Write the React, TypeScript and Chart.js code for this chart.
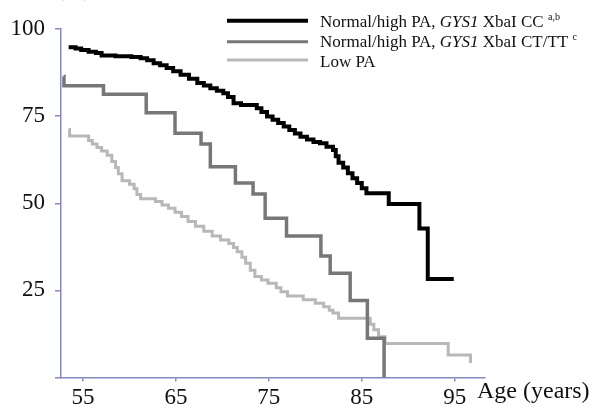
import React, { useEffect, useRef } from "react";
import { Chart, registerables } from "chart.js";

Chart.register(...registerables);

// Normal/high PA, GYS1 XbaI CC (black)
const ccAges = [53.45, 54.2, 54.8, 55.6, 56.4, 57.0, 58.5, 60.2, 61.2, 61.9, 62.6, 63.3, 64.0, 64.7, 65.5, 66.4, 67.3, 68.0, 68.7, 69.4, 70.1, 70.6, 71.2, 72.0, 73.7, 74.2, 74.8, 75.4, 76.0, 76.6, 77.2, 77.8, 78.4, 79.1, 79.8, 80.5, 81.2, 81.9, 82.2, 82.5, 83.0, 83.5, 84.0, 84.5, 85.0, 85.5, 87.9, 91.2, 92.1, 94.9];
const ccSurv = [94.8, 94.4, 94.0, 93.5, 93.1, 92.4, 92.2, 92.0, 91.6, 91.0, 90.2, 89.6, 88.8, 87.9, 86.9, 85.7, 84.5, 83.8, 83.0, 82.3, 81.6, 80.5, 78.7, 78.2, 77.3, 76.2, 74.9, 74.0, 73.0, 72.0, 71.0, 70.0, 69.1, 68.3, 67.6, 67.2, 66.2, 65.3, 63.5, 61.6, 60.3, 58.6, 57.2, 55.8, 54.3, 52.9, 49.8, 42.8, 28.3, 28.3];

// Normal/high PA, GYS1 XbaI CT/TT (grey)
const ctAges = [52.9, 52.95, 57.2, 61.8, 64.9, 67.7, 68.7, 71.4, 73.3, 74.6, 76.9, 80.6, 81.6, 83.75, 85.6, 87.4];
const ctSurv = [86.4, 83.7, 81.3, 76.0, 70.1, 67.0, 60.5, 55.8, 52.7, 45.7, 40.6, 34.9, 29.9, 22.1, 11.3, 0];

// Low PA (light grey)
const lowAges = [53.45, 53.55, 55.6, 56.0, 56.5, 57.0, 57.6, 58.1, 58.5, 58.8, 59.2, 60.0, 60.5, 60.8, 61.2, 62.8, 63.5, 64.2, 64.9, 65.6, 66.3, 67.1, 68.0, 68.9, 69.8, 70.7, 71.2, 71.6, 72.1, 72.5, 73.0, 73.5, 74.2, 74.9, 75.8, 76.3, 77.0, 78.7, 80.0, 80.9, 81.5, 81.9, 82.5, 85.9, 86.3, 86.8, 87.5, 94.3, 96.7];
const lowSurv = [71.2, 69.3, 68.0, 67.0, 66.0, 65.0, 63.8, 62.0, 60.3, 58.5, 56.5, 55.5, 54.2, 52.5, 51.3, 50.5, 49.5, 48.6, 47.4, 46.2, 44.8, 43.4, 42.0, 40.6, 39.5, 38.5, 37.3, 36.1, 34.5, 32.8, 30.8, 29.0, 28.0, 27.1, 25.8, 24.6, 23.4, 22.3, 21.3, 20.3, 19.3, 18.5, 17.0, 15.3, 13.7, 11.7, 9.8, 6.5, 4.2];

const xTicks = [55, 65, 75, 85, 95];
const yTicks = [0, 25, 50, 75, 100];
const xLabel = "Age (years)";
const yTitle = "Survival (%)";

type Part = { t: string; italic?: boolean; sup?: boolean };
const legendItems: { color: string; width: number; parts: Part[] }[] = [
  { color: "#000000", width: 4, parts: [{ t: "Normal/high PA, " }, { t: "GYS1", italic: true }, { t: " XbaI CC " }, { t: "a,b", sup: true }] },
  { color: "#777777", width: 3, parts: [{ t: "Normal/high PA, " }, { t: "GYS1", italic: true }, { t: " XbaI CT/TT " }, { t: "c", sup: true }] },
  { color: "#b8b8b8", width: 3, parts: [{ t: "Low PA" }] },
];

const SERIF = '"Liberation Serif", "Times New Roman", serif';
const AXIS = "#8787c2";

const pts = (a: number[], s: number[]) => a.map((x, i) => ({ x, y: s[i] }));

export default function App() {
  const ref = useRef<HTMLCanvasElement | null>(null);
  useEffect(() => {
    if (!ref.current) return;
    const extras = {
      id: "extras",
      afterDraw(chart: any) {
        const ctx = chart.ctx as CanvasRenderingContext2D;
        const area = chart.chartArea;
        ctx.save();
        // clipped axis title fragment at the top (only descenders visible)
        ctx.fillStyle = "#bbb";
        ctx.font = `23px ${SERIF}`;
        ctx.textBaseline = "alphabetic";
        ctx.textAlign = "left";
        ctx.fillText(yTitle, -27, -4);
        // x axis label
        ctx.fillStyle = "#111";
        ctx.font = `24px ${SERIF}`;
        ctx.fillText(xLabel, area.right - 8, 398);
        // legend
        legendItems.forEach((it, i) => {
          const baseY = 26.7 + i * 20;
          const ly = [20.7, 41.7, 60][i];
          ctx.strokeStyle = it.color;
          ctx.lineWidth = it.width;
          ctx.beginPath();
          ctx.moveTo(227, ly);
          ctx.lineTo(308, ly);
          ctx.stroke();
          let x = 320;
          ctx.fillStyle = "#111";
          for (const p of it.parts) {
            if (p.sup) {
              ctx.font = `10px ${SERIF}`;
              ctx.fillText(p.t, x, baseY - 7);
            } else {
              ctx.font = `${p.italic ? "italic " : ""}17px ${SERIF}`;
              ctx.fillText(p.t, x, baseY);
            }
            x += ctx.measureText(p.t).width;
          }
        });
        ctx.restore();
      },
    };
    const chart = new Chart(ref.current, {
      type: "line",
      data: {
        datasets: [
          { data: pts(ccAges, ccSurv), borderColor: "#000000", borderWidth: 4 },
          { data: pts(ctAges, ctSurv), borderColor: "#777777", borderWidth: 3.5 },
          { data: pts(lowAges, lowSurv), borderColor: "#b8b8b8", borderWidth: 3 },
        ].map((d) => ({ ...d, stepped: "before" as const, pointRadius: 0, fill: false, borderJoinStyle: "miter" as const })),
      },
      options: {
        animation: false,
        responsive: false,
        devicePixelRatio: 1,
        layout: { padding: { top: 29, right: 117, left: 0, bottom: 0 } },
        plugins: { legend: { display: false }, tooltip: { enabled: false } },
        scales: {
          x: {
            type: "linear",
            min: 52.63,
            max: 98.26,
            grid: { drawOnChartArea: false, drawTicks: true, tickLength: 4, color: AXIS, lineWidth: 1.5 },
            border: { color: AXIS, width: 1.5 },
            ticks: { color: "#111", font: { family: SERIF, size: 23 }, padding: 3, autoSkip: false, maxRotation: 0 },
            afterBuildTicks: (s: any) => { s.ticks = xTicks.map((v) => ({ value: v })); },
            afterFit: (s: any) => { s.height = 30.4; },
          },
          y: {
            min: 0,
            max: 100,
            grid: { drawOnChartArea: false, drawTicks: true, tickLength: 6, color: AXIS, lineWidth: 1.5 },
            border: { color: AXIS, width: 1.5 },
            ticks: { color: "#111", font: { family: SERIF, size: 23 }, padding: 10, callback: (v: any) => (v === 0 ? "" : String(v)) },
            afterBuildTicks: (s: any) => { s.ticks = yTicks.map((v) => ({ value: v })); },
            afterFit: (s: any) => { s.width = 61; },
          },
        },
      },
      plugins: [extras],
    });
    return () => chart.destroy();
  }, []);
  return (
    <div style={{ position: "absolute", left: 0, top: 0, width: 602, height: 408, background: "#fff" }}>
      <canvas ref={ref} width={602} height={408} style={{ width: 602, height: 408 }} />
    </div>
  );
}
